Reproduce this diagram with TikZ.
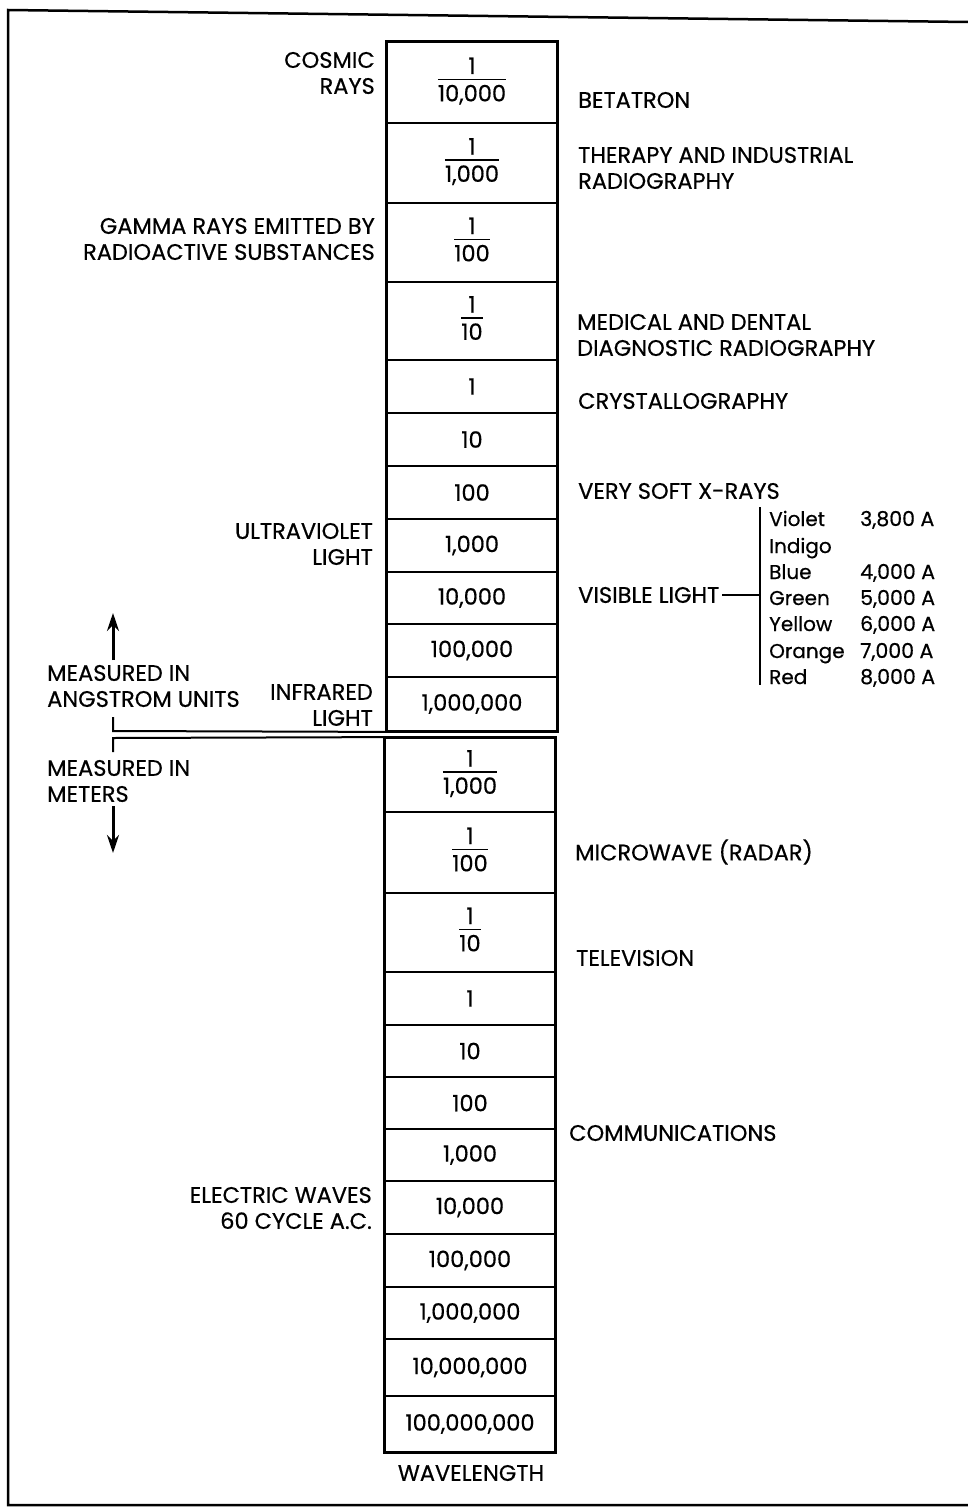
\documentclass[tikz,border=0pt]{standalone}
\usepackage{fontspec}
\setmainfont{Poppins}[FakeBold=0.5]
\usetikzlibrary{arrows.meta}
\newcommand{\fr}[2]{\setlength{\arrayrulewidth}{1.4pt}\begin{tabular}{@{}c@{}}#1\\[-3pt]\hline\noalign{\vskip 3pt}#2\end{tabular}}
\begin{document}
\begin{tikzpicture}[x=1pt,y=-1pt,
  font=\fontsize{22.5}{26}\selectfont,
  cell/.style={draw, line width=1.8pt, minimum width=170pt, inner sep=0pt},
  lab/.style={inner sep=0pt, align=left, anchor=west},
  labr/.style={inner sep=0pt, align=right, anchor=east},
  ln/.style={line width=2pt},
  arr/.style={line width=3pt, -{Stealth[length=18pt,width=12pt]}}]
\useasboundingbox (0,0) rectangle (968,1509);
% frame
\draw[line width=2.5pt] (968,22) -- (8,10) -- (8,1505) -- (968,1505);
% upper block
\node[cell, minimum height=81pt] (u1) at (472,82.5) {\fr{1}{10,000}};
\node[cell, minimum height=80pt] (u2) at (472,163) {\fr{1}{1,000}};
\node[cell, minimum height=79pt] (u3) at (472,242.5) {\fr{1}{100}};
\node[cell, minimum height=78pt] (u4) at (472,321) {\fr{1}{10}};
\node[cell, minimum height=53pt] (u5) at (472,386.5) {1};
\node[cell, minimum height=53pt] (u6) at (472,439.5) {10};
\node[cell, minimum height=53pt] (u7) at (472,492.5) {100};
\node[cell, minimum height=53pt] (u8) at (472,545.5) {1,000};
\node[cell, minimum height=52pt] (u9) at (472,598) {10,000};
\node[cell, minimum height=53pt] (u10) at (472,650.5) {100,000};
\node[cell, minimum height=54pt] (u11) at (472,704) {1,000,000};
\draw[line width=2.6pt] (u1.north west) rectangle (u11.south east);
% lower block
\node[cell, minimum height=74pt] (l1) at (470,775) {\fr{1}{1,000}};
\node[cell, minimum height=81pt] (l2) at (470,852.5) {\fr{1}{100}};
\node[cell, minimum height=79pt] (l3) at (470,932.5) {\fr{1}{10}};
\node[cell, minimum height=53pt] (l4) at (470,998.5) {1};
\node[cell, minimum height=52pt] (l5) at (470,1051) {10};
\node[cell, minimum height=52pt] (l6) at (470,1103) {100};
\node[cell, minimum height=52pt] (l7) at (470,1155) {1,000};
\node[cell, minimum height=53pt] (l8) at (470,1207.5) {10,000};
\node[cell, minimum height=53pt] (l9) at (470,1260.5) {100,000};
\node[cell, minimum height=52pt] (l10) at (470,1313) {1,000,000};
\node[cell, minimum height=57pt] (l11) at (470,1367.5) {10,000,000};
\node[cell, minimum height=56pt] (l12) at (470,1424) {100,000,000};
\draw[line width=2.6pt] (l1.north west) rectangle (l12.south east);
\node (wl) at (471,1473) {WAVELENGTH};
% divider brackets and arrows
\coordinate (ua) at (113,731);
\coordinate (lb) at (113,738);
\draw[ln] (u11.south west) -- (ua) -- ++(0,-14);
\draw[ln] (l1.north west) -- (lb) -- ++(0,14);
\coordinate (a1s) at (113,660);
\coordinate (a1e) at (113,613);
\coordinate (a2s) at (113,806);
\coordinate (a2e) at (113,853);
\draw[arr] (a1s) -- (a1e);
\draw[arr] (a2s) -- (a2e);
% left labels
\node[labr] (cos) at (375,73) {COSMIC\\RAYS};
\node[labr] (gam) at (375,239) {GAMMA RAYS EMITTED BY\\RADIOACTIVE SUBSTANCES};
\node[labr] (uv) at (373,544) {ULTRAVIOLET\\LIGHT};
\node[labr] (ir) at (373,705) {INFRARED\\LIGHT};
\node[labr] (el) at (372,1208) {ELECTRIC WAVES\\60 CYCLE A.C.};
\node[lab] (ang) at (47,686) {MEASURED IN\\ANGSTROM UNITS};
\node[lab] (met) at (47,781) {MEASURED IN\\METERS};
% right labels
\node[lab] (bet) at (578,100) {BETATRON};
\node[lab] (ther) at (578,168) {THERAPY AND INDUSTRIAL\\RADIOGRAPHY};
\node[lab] (med) at (577,335) {MEDICAL AND DENTAL\\DIAGNOSTIC RADIOGRAPHY};
\node[lab] (cry) at (578,401) {CRYSTALLOGRAPHY};
\node[lab] (vsx) at (578,491) {VERY SOFT X-RAYS};
\node[lab] (vis) at (578,595) {VISIBLE LIGHT};
\node[lab] (mic) at (575,852) {MICROWAVE (RADAR)};
\node[lab] (tv) at (576,958) {TELEVISION};
\node[lab] (com) at (569,1133) {COMMUNICATIONS};
% visible light spectrum
\coordinate (vj) at (760,595);
\coordinate (vt) at (760,507);
\coordinate (vb) at (760,685);
\draw[ln] ([xshift=3pt]vis.east) -- (vj);
\draw[ln] (vt) -- (vb);
\foreach \n/\c/\w/\yy in {c1/Violet/{3,800 A}/526, c2/Indigo/{}/553, c3/Blue/{4,000 A}/579, c4/Green/{5,000 A}/605, c5/Yellow/{6,000 A}/631, c6/Orange/{7,000 A}/658, c7/Red/{8,000 A}/684}{
  \node[inner sep=0pt, anchor=base west, font=\fontsize{20}{26}\selectfont] (\n) at (769,\yy) {\c};
  \node[inner sep=0pt, anchor=base west, font=\fontsize{20.5}{26}\selectfont] (\n v) at (860,\yy) {\w};
}
\end{tikzpicture}
\end{document}
